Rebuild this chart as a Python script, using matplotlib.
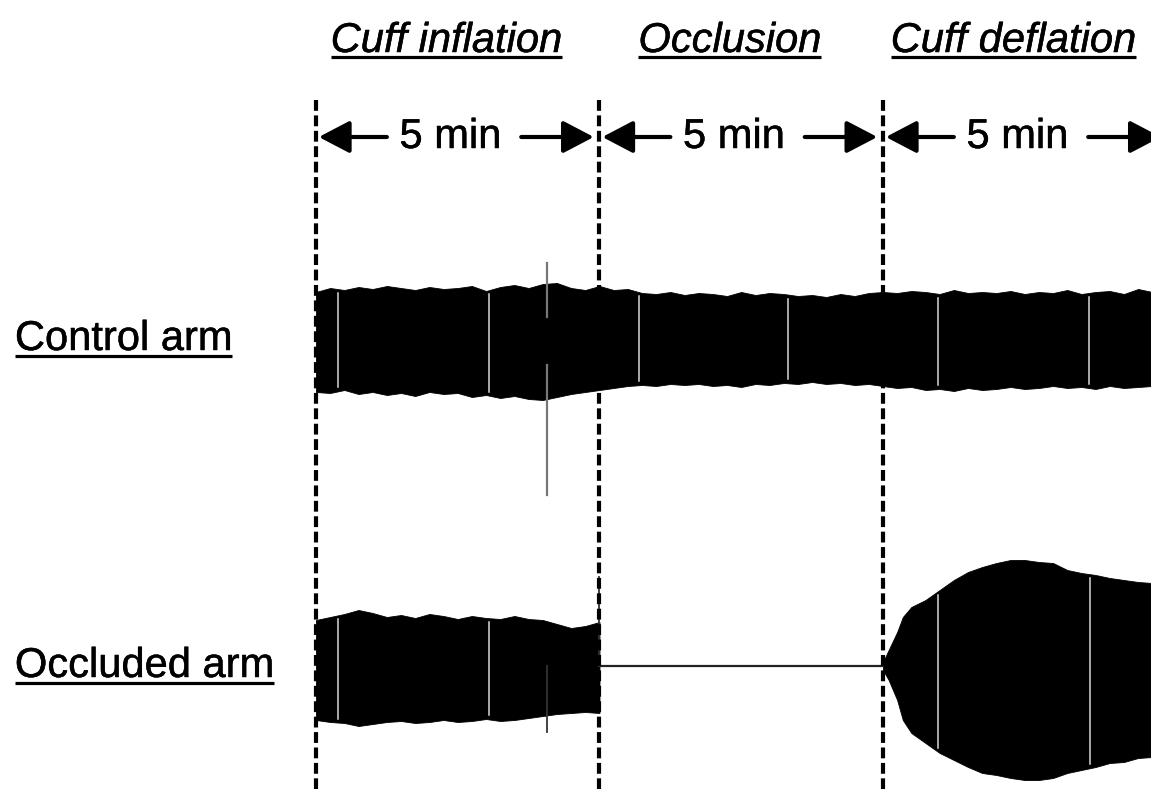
import matplotlib

matplotlib.use("Agg")
import matplotlib.pyplot as plt
import matplotlib.patheffects as pe
import numpy as np

plt.rcParams["font.family"] = ["Liberation Sans", "DejaVu Sans"]

# ---- data (time in minutes, amplitude in a.u. above/below each trace baseline)
phase_names = ["Cuff inflation", "Occlusion", "Cuff deflation"]
phase_edges = [0.0, 5.0, 10.0, 15.0]
phase_len_label = "5 min"
arm_names = ["Control arm", "Occluded arm"]

ctrl_t = [0.0, 0.25, 0.5, 0.75, 1.0, 1.25, 1.5, 1.75, 2.0, 2.25,
          2.5, 2.75, 3.0, 3.25, 3.5, 3.75, 4.0, 4.25, 4.5, 4.75,
          5.0, 5.25, 5.5, 5.75, 6.0, 6.25, 6.5, 6.75, 7.0, 7.25,
          7.5, 7.75, 8.0, 8.25, 8.5, 8.75, 9.0, 9.25, 9.5, 9.75,
          10.0, 10.25, 10.5, 10.75, 11.0, 11.25, 11.5, 11.75, 12.0, 12.25,
          12.5, 12.75, 13.0, 13.25, 13.5, 13.75, 14.0, 14.25, 14.5, 14.75]
ctrl_up = [48, 52, 50, 53, 51, 54, 52, 50, 53, 51,
           52, 54, 49, 53, 55, 52, 56, 57, 52, 50,
           54, 50, 51, 47, 46, 48, 45, 47, 46, 44,
           48, 45, 47, 46, 44, 45, 43, 46, 44, 47,
           48, 47, 49, 48, 46, 50, 47, 48, 47, 49,
           46, 48, 47, 50, 46, 48, 49, 46, 51, 48]
ctrl_lo = [52, 53, 50, 54, 52, 55, 53, 56, 52, 54,
           53, 57, 55, 58, 56, 59, 60, 57, 54, 52,
           50, 48, 46, 45, 46, 44, 45, 44, 46, 45,
           47, 44, 45, 43, 44, 42, 44, 43, 45, 44,
           46, 48, 47, 50, 49, 51, 48, 50, 49, 47,
           49, 48, 46, 48, 47, 49, 46, 48, 47, 46]
ctrl_gaps = [0.39, 3.05, 5.70, 8.32, 10.97, 13.63]
ctrl_spike_t = 4.07
ctrl_spike_up = 77
ctrl_spike_lo = 155

# occluded arm: inflation, occlusion (flat), deflation (hyperaemia)
occ_in_t = [0.0, 0.25, 0.5, 0.75, 1.0, 1.25, 1.5, 1.75, 2.0, 2.25,
            2.5, 2.75, 3.0, 3.25, 3.5, 3.75, 4.0, 4.25, 4.5, 4.75, 5.0]
occ_in_up = [46, 49, 52, 56, 53, 49, 51, 48, 52, 50,
             47, 50, 48, 47, 50, 47, 46, 42, 38, 40, 44]
occ_in_lo = [54, 56, 57, 60, 58, 56, 55, 57, 56, 54,
             56, 55, 53, 55, 54, 52, 50, 48, 47, 46, 47]
occ_flat_t = [5.0, 10.0]
occ_flat = [0, 0]
occ_de_t = [10.0, 10.1, 10.25, 10.35, 10.5, 10.75, 11.0, 11.25, 11.5, 11.75,
            12.0, 12.25, 12.5, 12.75, 13.0, 13.25, 13.5, 13.75, 14.0, 14.25,
            14.5, 14.75]
occ_de_up = [4, 16, 34, 49, 59, 66, 76, 86, 94, 99,
             103, 106, 106, 104, 103, 96, 93, 91, 88, 86, 84, 83]
occ_de_lo = [4, 14, 34, 54, 67, 77, 87, 94, 101, 107,
             109, 112, 114, 114, 112, 107, 104, 101, 97, 96, 92, 91]
occ_gaps = [0.39, 3.05, 10.97, 13.65]
occ_spike_t = [4.99, 4.08]
occ_spike_up = [89, 0]
occ_spike_lo = [0, 66]

# ---- layout
CTRL_BASE = 340
OCC_BASE = 666
FS = 30
bold_fx = [pe.withStroke(linewidth=0.35, foreground="black")]

fig = plt.figure(figsize=(11.51, 7.89), dpi=100)
ax = fig.add_axes([0, 0, 1, 1])
ax.set_xlim(-5.573, 14.727)
ax.set_ylim(789, 0)
ax.axis("off")


def band(t, up, lo, base):
    t = np.asarray(t, float)
    ax.fill_between(t, base - np.asarray(up), base + np.asarray(lo),
                    color="black", lw=0.6, edgecolor="black", zorder=2)


def gaps(ts, t, up, lo, base):
    for g in ts:
        u = np.interp(g, t, up) - 4
        l = np.interp(g, t, lo) - 4
        ax.plot([g, g], [base - u, base + l], color="#d8d8d8", lw=1.1, zorder=3)


band(ctrl_t, ctrl_up, ctrl_lo, CTRL_BASE)
gaps(ctrl_gaps, ctrl_t, ctrl_up, ctrl_lo, CTRL_BASE)
ax.plot([ctrl_spike_t] * 2, [CTRL_BASE - ctrl_spike_up, CTRL_BASE - 23],
        color="#777777", lw=1.6, zorder=3)
ax.plot([ctrl_spike_t] * 2, [CTRL_BASE + 25, CTRL_BASE + ctrl_spike_lo],
        color="#777777", lw=1.6, zorder=3)

band(occ_in_t, occ_in_up, occ_in_lo, OCC_BASE)
band(occ_de_t, occ_de_up, occ_de_lo, OCC_BASE)
gaps(occ_gaps[:2], occ_in_t, occ_in_up, occ_in_lo, OCC_BASE)
gaps(occ_gaps[2:], occ_de_t, occ_de_up, occ_de_lo, OCC_BASE)
ax.plot(occ_flat_t, OCC_BASE - np.asarray(occ_flat), color="#222222", lw=1.6, zorder=2)
for st, su, sl in zip(occ_spike_t, occ_spike_up, occ_spike_lo):
    ax.plot([st, st], [OCC_BASE - su, OCC_BASE + sl], color="#333333", lw=1.3, zorder=2)

# phase boundaries
for x in phase_edges[:3]:
    ax.plot([x, x], [100, 789], color="black", lw=3.0,
            linestyle=(0, (2.6, 1.1)), zorder=4)


def underline(txt, gap=5, lw=2.3):
    fig.canvas.draw()
    bb = txt.get_window_extent()
    inv = ax.transData.inverted()
    x0 = inv.transform((bb.x0, bb.y0))[0]
    x1 = inv.transform((bb.x1, bb.y0))[0]
    y = txt.get_position()[1] + gap
    ax.plot([x0, x1], [y, y], color="black", lw=lw, solid_capstyle="butt")


# phase titles and 5-min arrows
arrow_kw = dict(arrowstyle="-|>,head_length=1.05,head_width=0.55", color="black",
                lw=3.0, mutation_scale=18, shrinkA=0, shrinkB=0)
for name, s, e in zip(phase_names, phase_edges[:-1], phase_edges[1:]):
    mid = (s + e) / 2
    t = ax.text(mid - 0.2, 52, name, fontsize=FS, style="italic",
                ha="center", va="baseline", path_effects=bold_fx)
    underline(t)
    ax.text(mid - 0.13, 137, phase_len_label, fontsize=FS, ha="center",
            va="center", path_effects=bold_fx)
    ax.annotate("", xy=(s + 0.05, 137), xytext=(s + 1.25, 137),
                arrowprops=arrow_kw, annotation_clip=False)
    ax.annotate("", xy=(e - 0.1, 137), xytext=(e - 1.38, 137),
                arrowprops=arrow_kw, annotation_clip=False)

for name, yb in zip(arm_names, [350, 677]):
    t = ax.text(-5.31, yb, name, fontsize=FS, ha="left", va="baseline",
                path_effects=bold_fx)
    underline(t, gap=6)

fig.savefig("out.png", dpi=100)
